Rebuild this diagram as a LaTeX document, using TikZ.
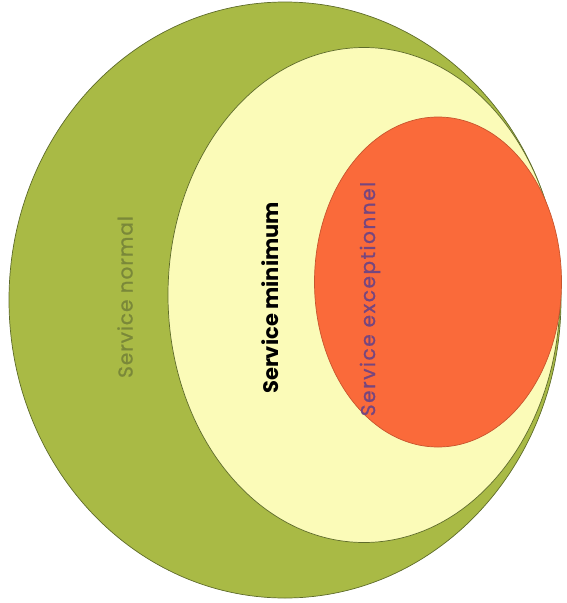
\documentclass[tikz,border=0pt]{standalone}
\usepackage{fontspec}
\setmainfont{Poppins}
\usetikzlibrary{shapes.geometric}
\definecolor{olive}{HTML}{A9BA45}
\definecolor{cream}{HTML}{FBFBB8}
\definecolor{flame}{HTML}{FA6A3A}
\definecolor{oliveink}{HTML}{7A8839}
\definecolor{plum}{HTML}{76467F}
\definecolor{rim}{HTML}{5E6B2A}
\tikzset{
  zone/.style={ellipse,draw=rim,line width=0.7pt,inner sep=0pt},
  tag/.style={rotate=90,inner sep=0pt,font=\fontsize{20}{24}\selectfont},
}
\begin{document}
\begin{tikzpicture}[x=1pt,y=-1pt]
  \useasboundingbox (0,0) rectangle (566,603);
  \node[zone,fill=olive,minimum width=552pt,minimum height=596pt] (normal) at (285,300) {};
  \node[zone,fill=cream,minimum width=392pt,minimum height=495pt] (minimum) at (364,295) {};
  \node[zone,draw=flame!80!black,fill=flame,minimum width=247pt,minimum height=330pt] (exception) at (438,282) {};
  \node[tag,text=oliveink] (normaltext) at (125,297) {\addfontfeature{LetterSpace=5,FakeBold=1}Service normal};
  \node[tag,font=\fontsize{21}{24}\selectfont\bfseries] (minimumtext) at (270,298) {Service minimum};
  \node[tag,text=plum] (exceptiontext) at (370,299) {\addfontfeature{LetterSpace=8,FakeBold=1}Service exceptionnel};
\end{tikzpicture}
\end{document}
